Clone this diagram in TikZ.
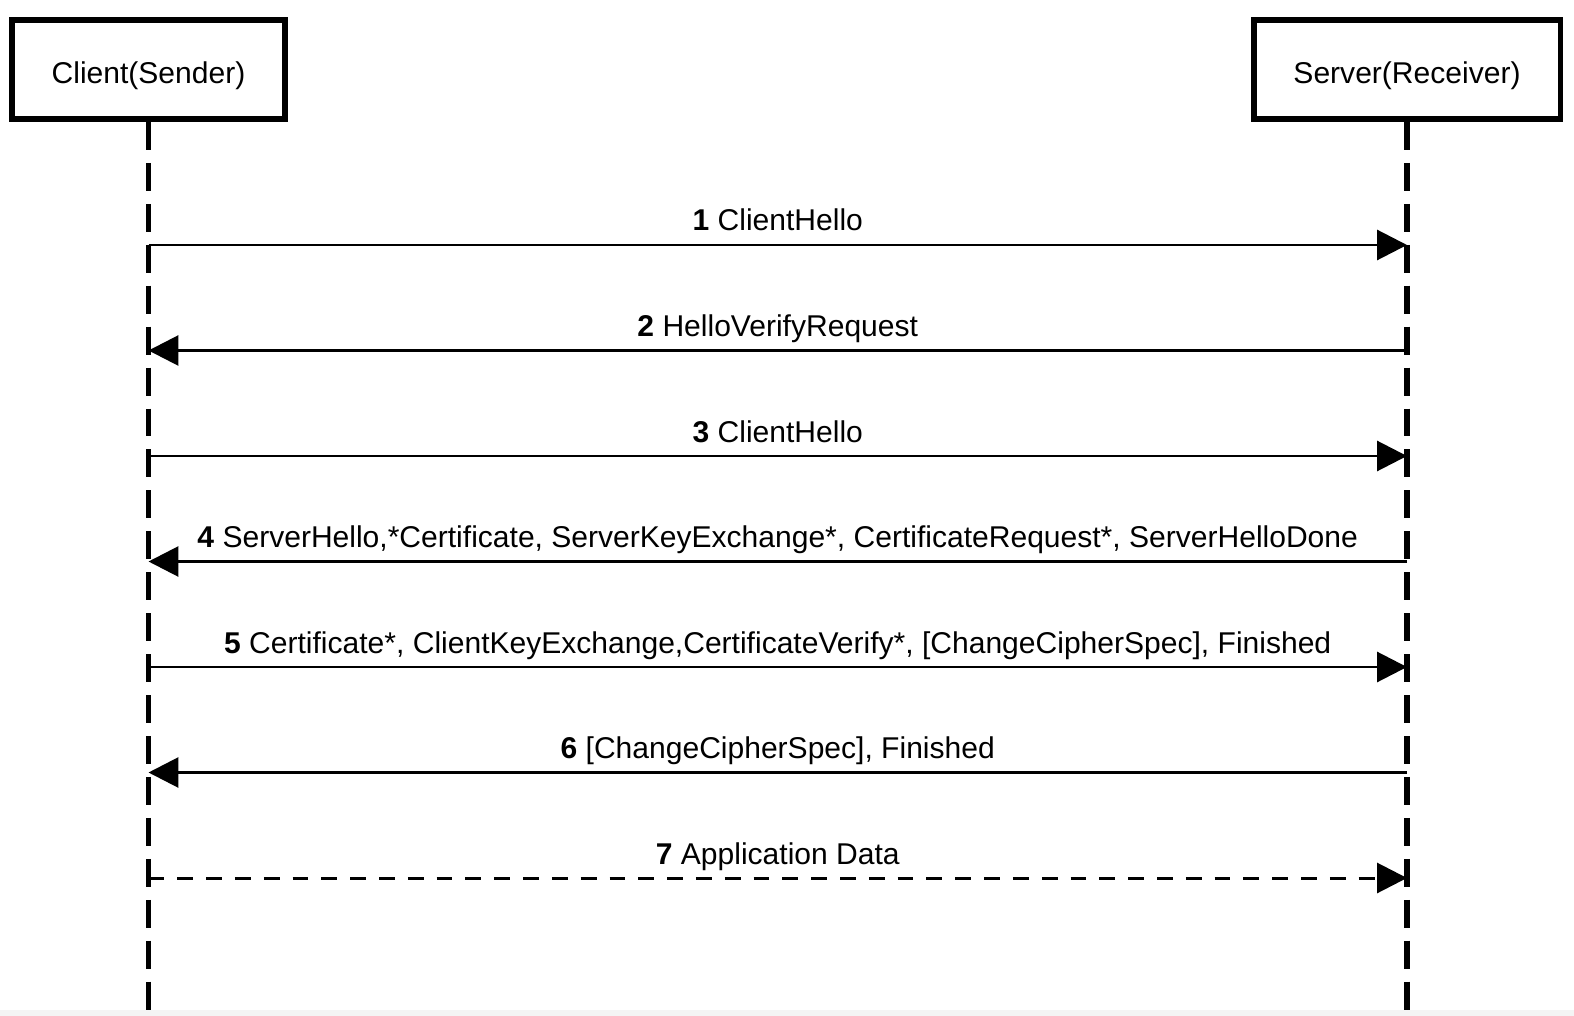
\documentclass[tikz,border=0pt]{standalone}
\usepackage{fontspec}
\setmainfont{Liberation Sans}
\usetikzlibrary{arrows.meta,positioning}
\definecolor{stripgray}{HTML}{F4F4F4}

\begin{document}
\begin{tikzpicture}[x=0.02cm,y=-0.02cm]
      \tikzstyle{actor}=[rectangle,draw=black,line width=3.4pt,minimum height=1.98cm,text height=16.4pt,text depth=0pt,font=\fontsize{17.1}{20}\selectfont]
      \tikzstyle{lifeline}=[line width=3.4pt,dash pattern=on 15.9pt off 7.4pt]
      \tikzstyle{msg}=[line width=1.7pt,-{Triangle[length=17pt,width=17pt]}]
      \tikzstyle{lbl}=[anchor=base,yshift=0.28cm,inner sep=0pt,font=\fontsize{17.1}{20}\selectfont]

      \useasboundingbox (0,0) rectangle (1574,1016);
      \fill[stripgray] (0,1010) rectangle (1574,1016);

      % actors and lifelines
      \node[actor,minimum width=5.48cm](client) at (148.5,69.5){Client(Sender)};
      \node[actor,minimum width=6.14cm](server) at (1407,69.5){Server(Receiver)};
      \coordinate (cend) at (148.5,1010);
      \coordinate (send) at (1407,1010);
      \draw[lifeline] (client.south) -- (cend);
      \draw[lifeline] (server.south) -- (send);

      % message rows
      \coordinate (c1) at (148.5,245);   \coordinate (s1) at (1407,245);
      \coordinate (c2) at (148.5,350.5); \coordinate (s2) at (1407,350.5);
      \coordinate (c3) at (148.5,456);   \coordinate (s3) at (1407,456);
      \coordinate (c4) at (148.5,561.5); \coordinate (s4) at (1407,561.5);
      \coordinate (c5) at (148.5,667);   \coordinate (s5) at (1407,667);
      \coordinate (c6) at (148.5,772.5); \coordinate (s6) at (1407,772.5);
      \coordinate (c7) at (148.5,878);   \coordinate (s7) at (1407,878);

      \draw[msg] (c1) -- node[lbl]{\textbf{1} ClientHello} (s1);
      \draw[msg] (s2) -- node[lbl]{\textbf{2} HelloVerifyRequest} (c2);
      \draw[msg] (c3) -- node[lbl]{\textbf{3} ClientHello} (s3);
      \draw[msg] (s4) -- node[lbl]{\textbf{4} ServerHello,*Certificate, ServerKeyExchange*, CertificateRequest*, ServerHelloDone} (c4);
      \draw[msg] (c5) -- node[lbl]{\textbf{5} Certificate*, ClientKeyExchange,CertificateVerify*, [ChangeCipherSpec], Finished} (s5);
      \draw[msg] (s6) -- node[lbl]{\textbf{6} [ChangeCipherSpec], Finished} (c6);
      \draw[msg,dash pattern=on 9pt off 7.4pt] (c7) -- node[lbl]{\textbf{7} Application Data} (s7);
\end{tikzpicture}
\end{document}
